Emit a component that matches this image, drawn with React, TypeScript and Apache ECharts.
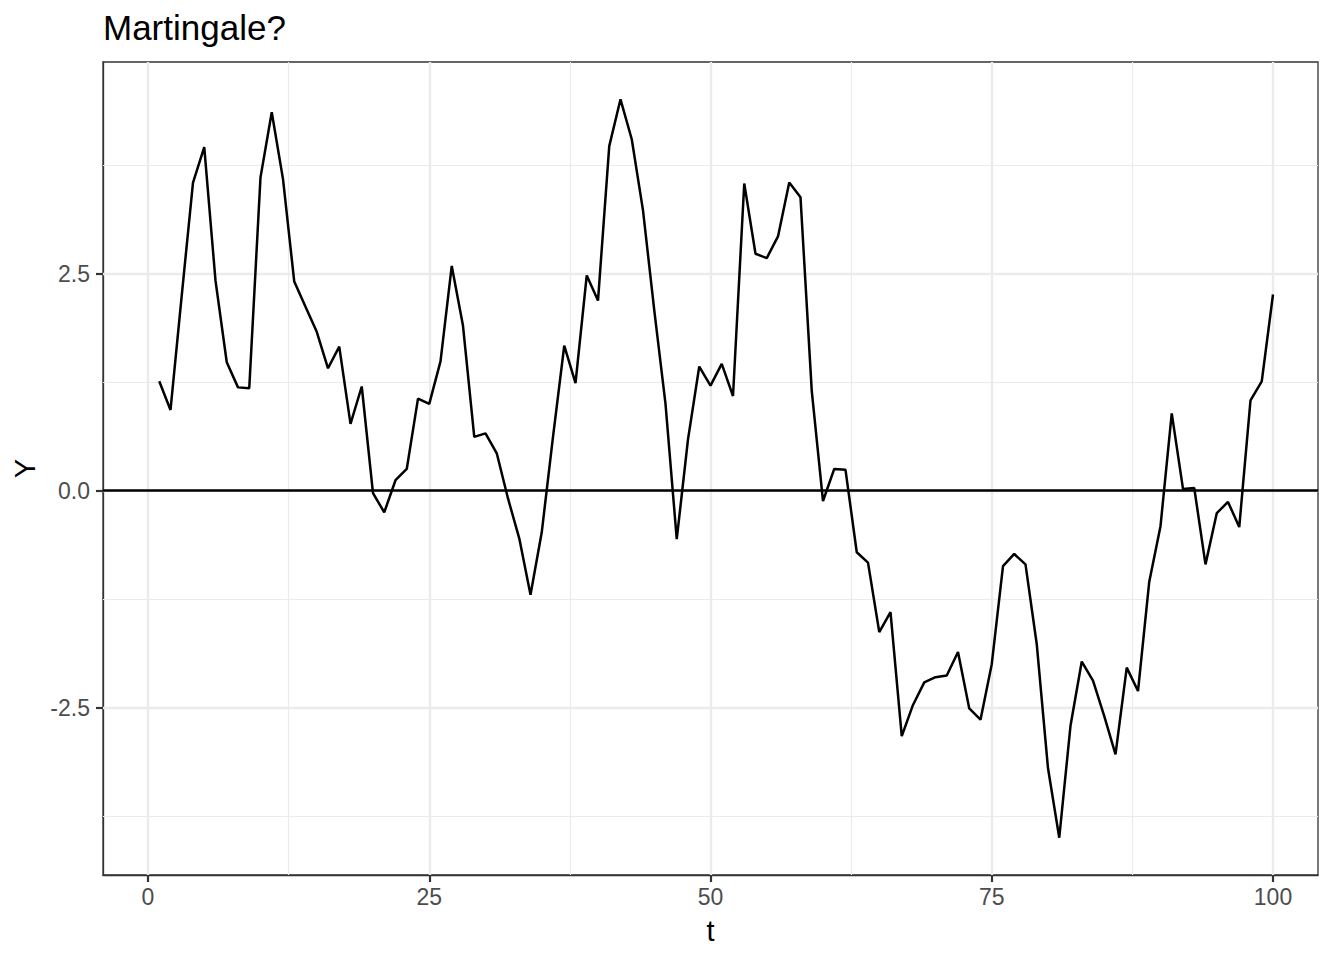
import React, { useEffect, useRef } from "react";
import * as echarts from "echarts";

const FONT = "'Liberation Sans', Arial, Helvetica, sans-serif";

const titleText = "Martingale?";
const xName = "t";
const yName = "Y";

// time index 1..100
const tValues: number[] = Array.from({ length: 100 }, (_, i) => i + 1);

// Y values
const yValues: number[] = [
  1.26, 0.93, 2.25, 3.55, 3.96, 2.42, 1.48, 1.19, 1.18, 3.61,
  4.36, 3.59, 2.41, 2.12, 1.83, 1.41, 1.66, 0.77, 1.2, -0.03,
  -0.25, 0.12, 0.25, 1.06, 1.0, 1.49, 2.59, 1.9, 0.62, 0.66,
  0.43, -0.09, -0.55, -1.2, -0.48, 0.62, 1.67, 1.24, 2.48, 2.19,
  3.97, 4.51, 4.05, 3.23, 2.08, 1.0, -0.56, 0.59, 1.43, 1.21,
  1.46, 1.09, 3.54, 2.73, 2.68, 2.93, 3.55, 3.38, 1.15, -0.12,
  0.25, 0.24, -0.71, -0.83, -1.63, -1.4, -2.83, -2.47, -2.21, -2.15,
  -2.13, -1.86, -2.51, -2.64, -2.0, -0.87, -0.73, -0.85, -1.77, -3.2,
  -4.0, -2.71, -1.97, -2.19, -2.6, -3.04, -2.04, -2.31, -1.05, -0.41,
  0.89, 0.02, 0.03, -0.85, -0.26, -0.13, -0.42, 1.04, 1.26, 2.26,
];

const xTicks: number[] = [0, 25, 50, 75, 100];
const xMinorGrid: number[] = [12.5, 37.5, 62.5, 87.5];
const yTicks: number[] = [-2.5, 0, 2.5];
const yMinorGrid: number[] = [-3.75, -1.25, 1.25, 3.75];
const hLineValue = 0;

const X_MIN = -4;
const X_MAX = 104;
const Y_MIN = -4.43;
const Y_MAX = 4.94;

export default function App() {
  const ref = useRef<HTMLDivElement>(null);

  useEffect(() => {
    if (!ref.current) return;
    const chart = echarts.init(ref.current, undefined, { renderer: "svg" });
    const pairs = tValues.map((t, i) => [t, yValues[i]]);

    const gridColor = "#EBEBEB";
    const gridLines: any[] = [
      ...xMinorGrid.map((v) => ({ xAxis: v, lineStyle: { width: 1.2, color: gridColor, type: "solid" } })),
      ...yMinorGrid.map((v) => ({ yAxis: v, lineStyle: { width: 1.2, color: gridColor, type: "solid" } })),
      ...xTicks.map((v) => ({ xAxis: v, lineStyle: { width: 2.4, color: gridColor, type: "solid" } })),
      ...yTicks.map((v) => ({ yAxis: v, lineStyle: { width: 2.4, color: gridColor, type: "solid" } })),
    ];

    chart.setOption({
      animation: false,
      backgroundColor: "#ffffff",
      title: {
        text: titleText,
        left: 103,
        top: 10,
        padding: 0,
        textStyle: { fontSize: 35, fontWeight: "normal", color: "#000000", fontFamily: FONT },
      },
      grid: {
        left: 103,
        right: 26,
        top: 62,
        bottom: 85,
        show: true,
        borderColor: "#333333",
        borderWidth: 1.3,
        backgroundColor: "transparent",
        containLabel: false,
        outerBoundsMode: "none",
      },
      xAxis: {
        type: "value",
        min: X_MIN,
        max: X_MAX,
        axisLine: { show: true, onZero: false, lineStyle: { color: "#333333", width: 1.3 } },
        axisTick: { show: true, customValues: xTicks, length: 7, lineStyle: { color: "#333333", width: 2.2 } },
        axisLabel: { customValues: xTicks, margin: 10, color: "#4D4D4D", fontSize: 23, fontFamily: FONT },
        splitLine: { show: false },
        name: xName,
        nameLocation: "middle",
        nameGap: 41,
        nameTextStyle: { fontSize: 29, color: "#000000", fontFamily: FONT },
      },
      yAxis: {
        type: "value",
        min: Y_MIN,
        max: Y_MAX,
        axisLine: { show: true, onZero: false, lineStyle: { color: "#333333", width: 1.3 } },
        axisTick: { show: true, customValues: yTicks, length: 7, lineStyle: { color: "#333333", width: 2.2 } },
        axisLabel: {
          customValues: yTicks,
          margin: 13,
          color: "#4D4D4D",
          fontSize: 23,
          fontFamily: FONT,
          formatter: (v: number) => v.toFixed(1),
        },
        splitLine: { show: false },
        name: yName,
        nameLocation: "middle",
        nameRotate: 90,
        nameGap: 62,
        nameTextStyle: { fontSize: 29, color: "#000000", fontFamily: FONT },
      },
      series: [
        {
          type: "line",
          data: pairs,
          showSymbol: false,
          silent: true,
          z: 1,
          lineStyle: { opacity: 0 },
          markLine: {
            silent: true,
            symbol: ["none", "none"],
            z: 1,
            label: { show: false },
            animation: false,
            data: gridLines,
          },
        },
        {
          type: "line",
          data: pairs,
          showSymbol: false,
          z: 3,
          lineStyle: { color: "#000000", width: 2.5 },
          markLine: {
            silent: true,
            symbol: ["none", "none"],
            z: 4,
            label: { show: false },
            animation: false,
            lineStyle: { color: "#000000", width: 2.5, type: "solid" },
            data: [{ yAxis: hLineValue }],
          },
        },
      ],
    });

    return () => chart.dispose();
  }, []);

  return (
    <div
      ref={ref}
      style={{ position: "absolute", left: 0, top: 0, width: 1344, height: 960 }}
    />
  );
}
